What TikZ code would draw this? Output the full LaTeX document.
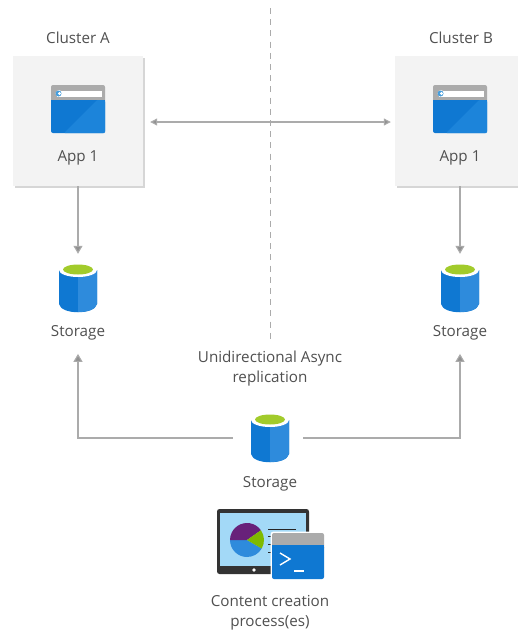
\documentclass[tikz,border=0pt]{standalone}
\usepackage{fontspec}
\setmainfont{Open Sans}
\usetikzlibrary{arrows.meta}
\usetikzlibrary{positioning,shadows}
\definecolor{textgray}{HTML}{505050}
\definecolor{linegray}{HTML}{ABABAB}
\definecolor{boxgray}{HTML}{F3F3F3}
\definecolor{azure}{HTML}{0F78D2}
\definecolor{azurelight}{HTML}{2E8BDC}
\definecolor{barblue}{HTML}{1C84DA}
\definecolor{skyblue}{HTML}{A3D9F7}
\definecolor{limegreen}{HTML}{A2CB2B}
\definecolor{piegreen}{HTML}{7FBA00}
\definecolor{piepurple}{HTML}{68217A}
\tikzset{
    every node/.style={font=\fontsize{15.2pt}{20pt}\selectfont, text=textgray, align=center},
    clusterbox/.style={
        fill=boxgray,
        minimum size=130pt,
        inner sep=0pt,
        general shadow={fill=black!40, opacity=0.4, shadow xshift=1.5pt, shadow yshift=-1.5pt}
    },
    iconspot/.style={
        minimum width=38pt,
        minimum height=50pt,
        inner sep=0pt
    },
    link/.style={
        draw=linegray,
        line width=1.1pt
    },
    linkarrow/.style={
        link,
        -{Triangle[length=8pt, width=9pt, fill=linegray!85!black]}
    },
    bothways/.style={
        link,
        {Triangle[length=7pt, width=7pt, fill=linegray!85!black]}-{Triangle[length=7pt, width=7pt, fill=linegray!85!black]}
    },
    storageicon/.pic={
        \fill[azure] (-19,-18) -- (-19,16) .. controls (-17,27) and (17,27) .. (19,16) -- (19,-18) -- cycle;
        \fill[azurelight] (0,-12) -- (0,24) .. controls (9,24) and (17,22) .. (19,16) -- (19,-18) -- cycle;
        \fill[white] (0,-18) ellipse (19 and 7);
        \fill[limegreen] (0,-18.5) ellipse (15 and 5);
    },
    appicon/.pic={
        \fill[linegray, rounded corners=2pt] (-27,-24) rectangle (27,-6);
        \fill[azure, rounded corners=2pt] (-27,-9) rectangle (27,24);
        \fill[azure] (-27,-9) rectangle (27,-6);
        \fill[barblue, rounded corners=1pt] (-14,24) -- (19,-9) -- (27,-9) -- (27,24) -- cycle;
        \fill[white] (-21,-18.5) rectangle (24,-12.5);
        \fill[white] (-19,-15.5) circle (3.4);
        \fill[cyan!70!blue!75] (-19.5,-15.5) circle (3);
        \fill[white] (-18.5,-15.5) circle (1.6);
    },
    screenicon/.pic={
        \fill[black!80, rounded corners=2.5pt] (-53,-32) rectangle (39,33);
        \fill[skyblue] (-50,-28) rectangle (36,25);
        \fill[white] (-16,29) circle (1.8);
        \begin{scope}[shift={(-23,-1)}, y=1pt]
            \fill[azurelight] (0,0) -- (180:17) arc (180:330:17) -- cycle;
            \fill[piepurple] (0,0) -- (35:17) arc (35:180:17) -- cycle;
            \fill[piegreen] (0,0) -- (-30:17) arc (-30:35:17) -- cycle;
        \end{scope}
        \draw[black!85, line width=1pt] (-2,-12) -- (26,-12);
        \draw[black!85, line width=1pt] (-2,-5) -- (2,-5);
        \draw[black!85, line width=1pt] (-2,3) -- (2,3);
        \draw[black!85, line width=1pt] (-2,11) -- (2,11);
    },
    termicon/.pic={
        \fill[white, rounded corners=3pt] (-27.5,-24.5) rectangle (27.5,24.5);
        \fill[linegray, rounded corners=2pt] (-26,-23) rectangle (26,-6);
        \fill[azure, rounded corners=2pt] (-26,-11) rectangle (26,23);
        \fill[azure] (-26,-11) rectangle (26,-6);
        \draw[white, line width=1.4pt] (-18,-3) -- (-8,3) -- (-18,9);
        \draw[white, line width=1.4pt] (-4,15) -- (6,15);
    }
}
\begin{document}
\begin{tikzpicture}[x=1pt,y=-1pt]
    \useasboundingbox (0,0) rectangle (518,633);
    \clip (0,0) rectangle (518,633);
    \fill[white] (0,0) rectangle (518,633);

    % Cluster boxes
    \node[clusterbox] (boxA) at (78,121) {};
    \node[clusterbox] (boxB) at (460,121) {};
    \node (clusterA) at (78,38) {Cluster A};
    \node (clusterB) at (461,38) {Cluster B};
    \pic at (78,109) {appicon};
    \pic at (460,109) {appicon};
    \node (appA) at (78,158) {App 1};
    \node (appB) at (460,158) {App 1};

    % Storage in each cluster
    \node[iconspot] (storeA) at (78,288) {};
    \node[iconspot] (storeB) at (460,288) {};
    \pic at (78,288) {storageicon};
    \pic at (460,288) {storageicon};
    \node (labelA) at (78,333) {Storage};
    \node (labelB) at (460,333) {Storage};

    % Divider and its caption
    \coordinate (top) at (270,8);
    \node (caption) at (270,369) {Unidirectional Async\\replication};
    \draw[linegray, dash pattern=on 6pt off 5.2pt, line width=1pt, shorten >=8pt] (top) -- (caption.north);

    % Source storage and process
    \node[iconspot] (source) at (270,438) {};
    \pic at (270,438) {storageicon};
    \node (labelS) at (270,484) {Storage};
    \node[minimum width=108pt, minimum height=70pt, inner sep=0pt] (screen) at (270,544) {};
    \pic at (270,541) {screenicon};
    \pic at (298,556) {termicon};
    \node (content) at (270,613) {Content creation\\process(es)};

    % Connectors
    \draw[bothways, shorten <=7pt, shorten >=4pt] (boxA.east |- 0,122) -- (boxB.west |- 0,122);
    \draw[linkarrow] (boxA.south -| storeA) -- ([yshift=9pt]storeA.north);
    \draw[linkarrow] (boxB.south -| storeB) -- ([yshift=9pt]storeB.north);
    \draw[linkarrow, shorten <=18pt] (source.west) -| ([yshift=-10pt]labelA.south);
    \draw[linkarrow, shorten <=14pt] (source.east) -| ([yshift=-10pt]labelB.south);
\end{tikzpicture}
\end{document}
